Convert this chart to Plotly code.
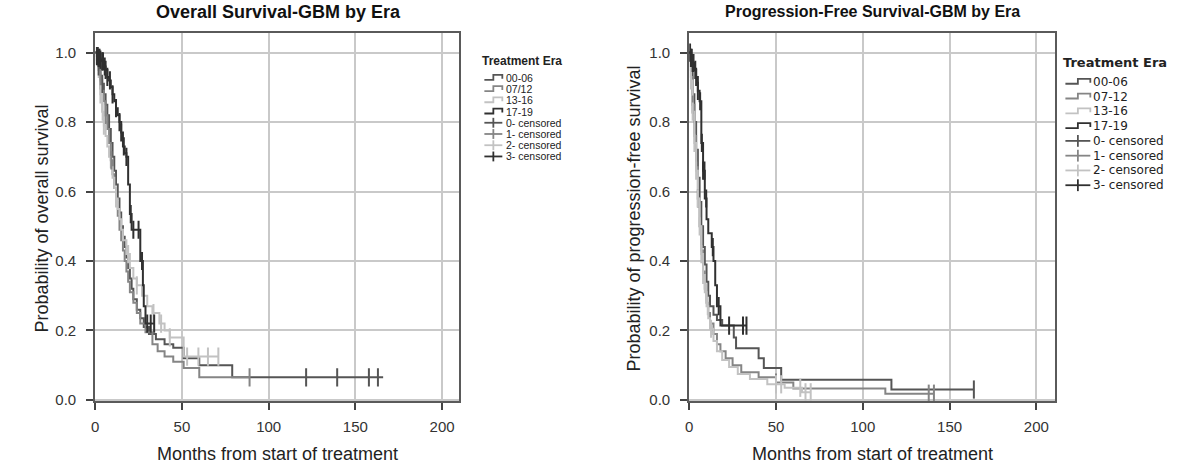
import numpy as np
import plotly.graph_objects as go

# ---------------- data ----------------
eras_os = ["00-06", "07/12", "13-16", "17-19"]
eras_pfs = ["00-06", "07-12", "13-16", "17-19"]
censor_labels = ["0- censored", "1- censored", "2- censored", "3- censored"]

# Overall survival (months, survival after drop)
os_0006_t = [0, 1, 2, 3, 4, 5, 6, 7, 8, 9, 10, 11, 12, 13, 14, 15, 16, 17, 18, 19, 20, 21, 22, 24, 26, 28, 31, 35, 40, 45, 51, 60, 79]
os_0006_s = [1, 0.98, 0.96, 0.93, 0.91, 0.88, 0.85, 0.82, 0.78, 0.74, 0.70, 0.66, 0.62, 0.58, 0.54, 0.50, 0.47, 0.44, 0.41, 0.38, 0.35, 0.32, 0.29, 0.26, 0.235, 0.21, 0.19, 0.175, 0.16, 0.15, 0.12, 0.10, 0.065]
os_0006_end = 166
os_0006_cens = [2, 4, 121.6, 139.5, 157.8, 163]

os_0712_t = [0, 1, 2, 3, 4, 5, 6, 7, 8, 9, 10, 11, 12, 13, 14, 15, 16, 17, 18, 19, 20, 22, 24, 26, 29, 33, 36, 40, 45, 51, 60]
os_0712_s = [1, 0.97, 0.95, 0.92, 0.89, 0.86, 0.82, 0.78, 0.74, 0.69, 0.65, 0.61, 0.57, 0.53, 0.49, 0.46, 0.43, 0.40, 0.37, 0.34, 0.31, 0.28, 0.25, 0.22, 0.195, 0.16, 0.14, 0.125, 0.11, 0.092, 0.065]
os_0712_end = 89
os_0712_cens = [3, 6, 9.3, 89]

os_1316_t = [0, 1, 2, 3, 4, 5, 6, 7, 8, 9, 10, 11, 12, 13, 14, 15, 16, 18, 20, 22, 24, 27, 30, 33, 37, 40, 43, 51]
os_1316_s = [1, 0.97, 0.93, 0.88, 0.83, 0.79, 0.76, 0.73, 0.70, 0.67, 0.64, 0.61, 0.58, 0.55, 0.52, 0.49, 0.46, 0.42, 0.38, 0.35, 0.33, 0.30, 0.27, 0.25, 0.22, 0.20, 0.18, 0.125]
os_1316_end = 71
os_1316_cens = [3, 4.3, 5, 12, 19, 24, 33.6, 38, 43, 53, 59.5, 65, 71]

os_1719_t = [0, 1, 2, 3, 4, 5, 6, 7, 8, 9, 10, 11, 12, 13, 14, 15, 16, 17, 18, 19, 20, 21, 26, 27.5, 28, 29]
os_1719_s = [1, 0.99, 0.985, 0.98, 0.975, 0.96, 0.95, 0.93, 0.92, 0.90, 0.88, 0.86, 0.84, 0.82, 0.80, 0.77, 0.73, 0.71, 0.70, 0.62, 0.535, 0.49, 0.40, 0.33, 0.27, 0.22]
os_1719_end = 34
os_1719_cens = [1, 1.5, 2, 2.5, 3, 4, 4.5, 5.5, 6, 7, 8.5, 10, 12, 14, 15, 16.5, 18, 20.5, 22, 25, 27, 30, 32, 34]

# Progression-free survival
pfs_0006_t = [0, 1, 2, 3, 4, 5, 6, 7, 8, 9, 10, 11, 12, 14, 16, 19, 25.7, 27, 40, 43, 53, 116.5]
pfs_0006_s = [1, 0.95, 0.88, 0.80, 0.72, 0.64, 0.57, 0.50, 0.44, 0.39, 0.34, 0.30, 0.27, 0.245, 0.23, 0.214, 0.18, 0.149, 0.12, 0.092, 0.058, 0.03]
pfs_0006_end = 164
pfs_0006_cens = [164]

pfs_0712_t = [0, 1, 2, 3, 4, 5, 6, 7, 8, 9, 10, 11, 12, 14, 16, 18, 21, 25, 30, 40, 50, 60, 113]
pfs_0712_s = [1, 0.93, 0.85, 0.76, 0.67, 0.58, 0.50, 0.43, 0.37, 0.32, 0.28, 0.25, 0.22, 0.19, 0.16, 0.14, 0.12, 0.10, 0.08, 0.065, 0.05, 0.033, 0.018]
pfs_0712_end = 141
pfs_0712_cens = [2, 5, 50, 138, 141]

pfs_1316_t = [0, 1, 2, 3, 4, 5, 6, 7, 8, 9, 10, 11, 12, 14, 16, 19, 23, 28, 35, 45, 55, 65]
pfs_1316_s = [1, 0.92, 0.83, 0.74, 0.66, 0.58, 0.50, 0.42, 0.36, 0.31, 0.27, 0.235, 0.205, 0.17, 0.14, 0.115, 0.095, 0.075, 0.06, 0.045, 0.035, 0.022]
pfs_1316_end = 70
pfs_1316_cens = [1, 2, 3, 4, 5, 6, 7, 8, 9.8, 10.7, 12.6, 50, 53, 64, 67, 70]

pfs_1719_t = [0, 1, 2, 3, 4, 5, 6, 7, 8, 9, 10, 11, 13, 14, 15, 16, 18]
pfs_1719_s = [1, 0.985, 0.97, 0.95, 0.93, 0.89, 0.86, 0.74, 0.66, 0.58, 0.52, 0.48, 0.44, 0.40, 0.33, 0.27, 0.214]
pfs_1719_end = 33
pfs_1719_cens = [0.5, 1, 1.5, 2, 2.5, 3.5, 4, 5, 6.3, 7.3, 8, 8.8, 9.8, 13.6, 17, 23, 31, 33]

x_ticks = [0, 50, 100, 150, 200]
y_ticks = [0.0, 0.2, 0.4, 0.6, 0.8, 1.0]

# ---------------- styles ----------------
colors = ["#555555", "#858585", "#c2c2c2", "#303030"]
W, H = 1188, 474
FONT = "Liberation Sans, Arial, sans-serif"

def px_x(px):
    return px / W

def px_y(py):
    return 1 - py / H

os_series = [
    (os_0006_t, os_0006_s, os_0006_end, os_0006_cens),
    (os_0712_t, os_0712_s, os_0712_end, os_0712_cens),
    (os_1316_t, os_1316_s, os_1316_end, os_1316_cens),
    (os_1719_t, os_1719_s, os_1719_end, os_1719_cens),
]
pfs_series = [
    (pfs_0006_t, pfs_0006_s, pfs_0006_end, pfs_0006_cens),
    (pfs_0712_t, pfs_0712_s, pfs_0712_end, pfs_0712_cens),
    (pfs_1316_t, pfs_1316_s, pfs_1316_end, pfs_1316_cens),
    (pfs_1719_t, pfs_1719_s, pfs_1719_end, pfs_1719_cens),
]

fig = go.Figure()

def add_km(series, names, xa, ya):
    for i, (t, s, end, cens) in enumerate(series):
        t = np.asarray(t, float)
        s = np.asarray(s, float)
        fig.add_trace(go.Scatter(
            x=list(t) + [end], y=list(s) + [s[-1]],
            mode="lines", line=dict(color=colors[i], width=2, shape="hv"),
            name=names[i], showlegend=False, xaxis=xa, yaxis=ya, hoverinfo="skip"))
    for i, (t, s, end, cens) in enumerate(series):
        t = np.asarray(t, float)
        s = np.asarray(s, float)
        c = np.asarray(cens, float)
        idx = np.searchsorted(t, c, side="right") - 1
        fig.add_trace(go.Scatter(
            x=c, y=s[idx], mode="markers",
            marker=dict(symbol="line-ns", size=13, line=dict(color=colors[i], width=2)),
            name=censor_labels[i], showlegend=False, xaxis=xa, yaxis=ya, hoverinfo="skip"))

add_km(os_series, eras_os, "x", "y")
add_km(pfs_series, eras_pfs, "x2", "y2")

axis_common = dict(
    showgrid=True, gridcolor="#c9c9c9", gridwidth=1.5,
    showline=True, mirror=True, linecolor="#5a5a5a", linewidth=2,
    ticks="outside", ticklen=7, tickwidth=1.5, tickcolor="#444",
    tickfont=dict(family=FONT, size=15, color="#333"),
    zeroline=False,
)
x_extra = dict(ticklabelstandoff=4)
y_extra = dict(ticklabelstandoff=7)

ytop, ybot = 34, 407
fig.update_layout(
    width=W, height=H,
    margin=dict(l=0, r=0, t=0, b=0),
    paper_bgcolor="white", plot_bgcolor="white",
    showlegend=False,
    xaxis=dict(domain=[px_x(91.5), px_x(457)], range=[0, 210], tickvals=x_ticks, anchor="y", **axis_common, **x_extra),
    yaxis=dict(domain=[px_y(ybot), px_y(ytop)], range=[-0.003, 1.055], tickvals=y_ticks, tickformat=".1f", anchor="x", **axis_common, **y_extra),
    xaxis2=dict(domain=[px_x(687.5), px_x(1055)], range=[0, 211], tickvals=x_ticks, anchor="y2", **axis_common, **x_extra),
    yaxis2=dict(domain=[px_y(ybot), px_y(ytop)], range=[-0.003, 1.055], tickvals=y_ticks, tickformat=".1f", anchor="x2", **axis_common, **y_extra),
)

annotations = []
shapes = []

def text(px, py, s, size, bold=False, family=FONT, xanchor="center", angle=0, color="#222"):
    annotations.append(dict(
        x=px_x(px), y=px_y(py), xref="paper", yref="paper",
        text=f"<b>{s}</b>" if bold else s, showarrow=False,
        xanchor=xanchor, yanchor="middle", textangle=angle,
        font=dict(family=family, size=size, color=color)))

# titles and axis titles
text(275, 12, "Overall Survival-GBM by Era", 18, bold=True, color="#111")
text(871, 12, "Progression-Free Survival-GBM by Era", 16, bold=True, color="#111")
text(274, 461, "Months from start of treatment", 18)
text(871, 461, "Months from start of treatment", 18)
text(38, 222, "Probability of overall survival", 18, angle=-90)
text(632, 222, "Probability of progression-free survival", 18, angle=-90)

def path_shape(points, color, width):
    d = "M " + " L ".join(f"{px_x(x):.5f},{px_y(y):.5f}" for x, y in points)
    shapes.append(dict(type="path", path=d, xref="paper", yref="paper",
                       line=dict(color=color, width=width)))

def legend(x0, y_title, y_first, dy, glyph_w, text_x, title_size, size, family, names, tick_h):
    text(x0, y_title, "Treatment Era", title_size, bold=True, family=family, xanchor="left")
    gx0, gx1 = x0 + 4, x0 + 4 + glyph_w
    gm = (gx0 + gx1) / 2
    for i in range(4):
        y = y_first + i * dy
        path_shape([(gx0, y + 2), (gm, y + 2), (gm, y - 3), (gx1, y - 3), (gx1, y + 1)], colors[i], 1.8)
        text(text_x, y, names[i], size, family=family, xanchor="left")
    for i in range(4):
        y = y_first + (i + 4) * dy
        path_shape([(gx0, y), (gx1, y)], colors[i], 1.8)
        path_shape([(gm, y - tick_h), (gm, y + tick_h)], colors[i], 1.8)
        text(text_x, y, censor_labels[i], size, family=family, xanchor="left")

legend(478, 62, 79, 11.4, 18, 502, 12, 10.5, FONT, eras_os, 5)
legend(1061, 63, 83, 15.0, 25, 1091, 13, 12, "DejaVu Sans, sans-serif", eras_pfs, 6)

fig.update_layout(annotations=annotations, shapes=shapes)
fig.write_html("out.html")
